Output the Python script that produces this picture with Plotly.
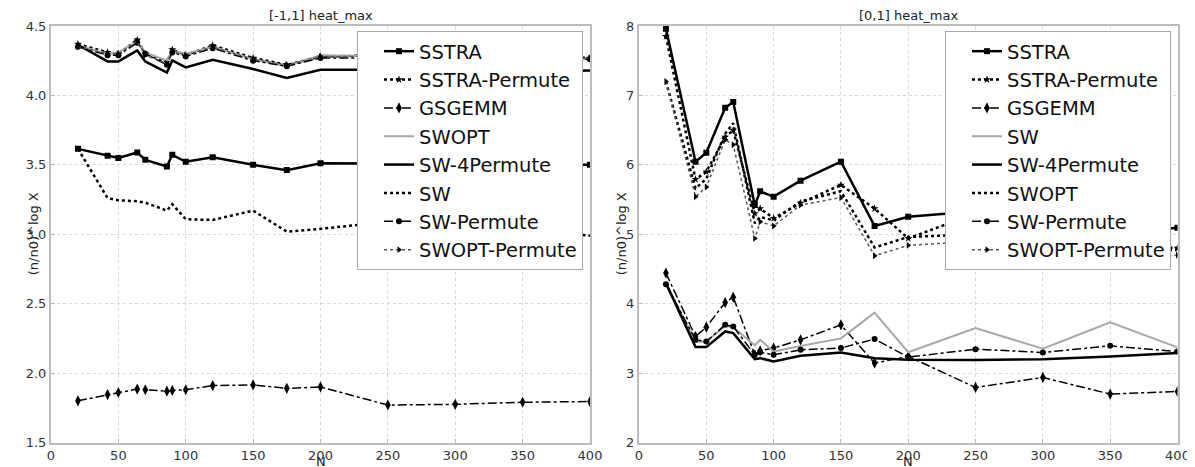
import plotly.graph_objects as go

# ---------------- data ----------------
N = [20, 42, 50, 64, 70, 86, 90, 100, 120, 150, 175, 200, 250, 300, 350, 400]

left_names = ["SSTRA", "SSTRA-Permute", "GSGEMM", "SWOPT", "SW-4Permute", "SW", "SW-Permute", "SWOPT-Permute"]
right_names = ["SSTRA", "SSTRA-Permute", "GSGEMM", "SW", "SW-4Permute", "SWOPT", "SW-Permute", "SWOPT-Permute"]

# [-1,1] heat_max
L_sstra = [3.615, 3.565, 3.550, 3.589, 3.536, 3.488, 3.572, 3.522, 3.555, 3.500, 3.462, 3.512, 3.51, 3.50, 3.50, 3.50]
L_sstra_perm = [4.37, 4.31, 4.30, 4.40, 4.30, 4.24, 4.33, 4.29, 4.36, 4.27, 4.22, 4.28, 4.29, 4.28, 4.28, 4.27]
L_gsgemm = [1.80, 1.845, 1.86, 1.885, 1.88, 1.87, 1.875, 1.88, 1.91, 1.915, 1.89, 1.90, 1.77, 1.775, 1.79, 1.795]
L_4th = [4.36, 4.30, 4.31, 4.39, 4.31, 4.25, 4.32, 4.30, 4.35, 4.26, 4.21, 4.29, 4.28, 4.28, 4.27, 4.26]
L_sw4perm = [4.365, 4.245, 4.245, 4.324, 4.245, 4.165, 4.252, 4.202, 4.257, 4.19, 4.125, 4.185, 4.185, 4.18, 4.17, 4.18]
L_6th = [3.615, 3.260, 3.245, 3.238, 3.228, 3.170, 3.217, 3.108, 3.103, 3.170, 3.019, 3.039, 3.09, 3.06, 3.03, 2.99]
L_swperm = [4.35, 4.29, 4.29, 4.38, 4.30, 4.22, 4.31, 4.28, 4.34, 4.25, 4.21, 4.27, 4.27, 4.27, 4.27, 4.26]
L_swoptperm = [4.35, 4.30, 4.30, 4.39, 4.29, 4.23, 4.32, 4.29, 4.35, 4.26, 4.22, 4.28, 4.28, 4.27, 4.27, 4.27]

# [0,1] heat_max
R_sstra = [7.96, 6.045, 6.174, 6.822, 6.904, 5.42, 5.618, 5.541, 5.771, 6.045, 5.119, 5.253, 5.33, 5.20, 5.00, 5.095]
R_sstra_perm = [7.85, 5.79, 5.90, 6.40, 6.50, 5.30, 5.37, 5.23, 5.45, 5.71, 5.37, 4.94, 5.30, 5.05, 4.85, 4.80]
R_gsgemm = [4.44, 3.527, 3.662, 4.016, 4.094, 3.263, 3.321, 3.36, 3.479, 3.695, 3.144, 3.24, 2.793, 2.937, 2.698, 2.735]
R_4th = [4.30, 3.45, 3.45, 3.68, 3.66, 3.40, 3.48, 3.31, 3.39, 3.50, 3.87, 3.30, 3.65, 3.35, 3.73, 3.37]
R_sw4perm = [4.295, 3.374, 3.374, 3.60, 3.576, 3.201, 3.215, 3.167, 3.249, 3.297, 3.215, 3.191, 3.19, 3.20, 3.24, 3.29]
R_6th = [7.20, 5.66, 5.80, 6.45, 6.60, 5.16, 5.25, 5.20, 5.47, 5.62, 4.81, 4.96, 5.00, 4.90, 4.70, 4.78]
R_swperm = [4.28, 3.479, 3.455, 3.695, 3.67, 3.263, 3.30, 3.263, 3.335, 3.36, 3.49, 3.23, 3.345, 3.297, 3.393, 3.31]
R_swoptperm = [7.20, 5.54, 5.68, 6.36, 6.29, 4.94, 5.18, 5.12, 5.42, 5.53, 4.69, 4.84, 4.90, 4.80, 4.58, 4.70]

left_series = [L_sstra, L_sstra_perm, L_gsgemm, L_4th, L_sw4perm, L_6th, L_swperm, L_swoptperm]
right_series = [R_sstra, R_sstra_perm, R_gsgemm, R_4th, R_sw4perm, R_6th, R_swperm, R_swoptperm]

# styles by position
styles = [
    dict(line=dict(color="black", width=2.5, dash="solid"), marker=dict(symbol="square", size=6, color="black"), mode="lines+markers"),
    dict(line=dict(color="black", width=2.5, dash="dot"), marker=dict(symbol="star", size=6, color="black"), mode="lines+markers"),
    dict(line=dict(color="black", width=1.5, dash="dashdot"), marker=dict(symbol="diamond-tall", size=8, color="black"), mode="lines+markers"),
    dict(line=dict(color="#a8a8a8", width=2, dash="solid"), marker=dict(symbol="triangle-down", size=3, color="#a8a8a8"), mode="lines"),
    dict(line=dict(color="black", width=2.5, dash="solid"), marker=dict(size=1), mode="lines"),
    dict(line=dict(color="black", width=2.5, dash="dot"), marker=dict(size=1), mode="lines"),
    dict(line=dict(color="black", width=1.5, dash="dashdot"), marker=dict(symbol="circle", size=6, color="black"), mode="lines+markers"),
    dict(line=dict(color="#555555", width=1.5, dash="dot"), marker=dict(symbol="triangle-right", size=6, color="black"), mode="lines+markers"),
]

fig = go.Figure()
for name, ys, st in zip(left_names, left_series, styles):
    fig.add_trace(go.Scatter(x=N, y=ys, name=name, mode=st["mode"], line=st["line"],
                             marker=st["marker"], xaxis="x", yaxis="y", legend="legend"))
for name, ys, st in zip(right_names, right_series, styles):
    fig.add_trace(go.Scatter(x=N, y=ys, name=name, mode=st["mode"], line=st["line"],
                             marker=st["marker"], xaxis="x2", yaxis="y2", legend="legend2"))

W, H = 1195, 467
OFF = 8  # page offset of the figure inside the browser window

def px(sx):
    return (sx - OFF) / W

def py(sy):
    return 1 - (sy - OFF) / H

L_x0, L_x1 = 51, 590
R_x0, R_x1 = 639, 1177.5
y_top, y_bot = 26, 442.5

axis_common = dict(showline=True, mirror=True, linecolor="#bdbdbd", linewidth=2,
                   showgrid=True, gridcolor="#d9d9d9", griddash="dot", gridwidth=1,
                   zeroline=False, ticks="inside", ticklen=4, tickcolor="#bdbdbd",
                   automargin=False,
                   tickfont=dict(family="DejaVu Sans", size=13, color="#333333"))

legend_common = dict(xanchor="left", yanchor="top", bgcolor="white",
                     bordercolor="#aaaaaa", borderwidth=1,
                     font=dict(family="DejaVu Sans", size=19.5, color="#111111"),
                     indentation=21, tracegroupgap=0)

fig.update_layout(
    width=W, height=H,
    margin=dict(l=0, r=0, t=0, b=0, autoexpand=False),
    paper_bgcolor="white", plot_bgcolor="white",
    font=dict(family="DejaVu Sans", color="#222222"),
    xaxis=dict(domain=[px(L_x0), px(L_x1)], range=[0, 400], dtick=50, anchor="y", **axis_common),
    yaxis=dict(domain=[py(y_bot), py(y_top)], range=[1.5, 4.5], dtick=0.5, tickformat=".1f", anchor="x", **axis_common),
    xaxis2=dict(domain=[px(R_x0), px(R_x1)], range=[0, 400], dtick=50, anchor="y2", **axis_common),
    yaxis2=dict(domain=[py(y_bot), py(y_top)], range=[2, 8], dtick=1, anchor="x2", **axis_common),
    legend=dict(x=px(357), y=py(31), **legend_common),
    legend2=dict(x=px(945), y=py(31), **legend_common),
    showlegend=True,
)

ann_font = dict(family="DejaVu Sans", size=13, color="#222222")
for x0, x1, title in [(L_x0, L_x1, "[-1,1] heat_max"), (R_x0, R_x1, "[0,1] heat_max")]:
    xc = px((x0 + x1) / 2)
    fig.add_annotation(x=xc, y=py(15), xref="paper", yref="paper", text=title, showarrow=False,
                       font=ann_font, xanchor="center", yanchor="middle")
    fig.add_annotation(x=xc, y=py(461), xref="paper", yref="paper", text="N", showarrow=False,
                       font=ann_font, xanchor="center", yanchor="middle")
for xs in [33, 621]:
    fig.add_annotation(x=px(xs), y=py((y_top + y_bot) / 2), xref="paper", yref="paper",
                       text="(n/n0)^log X", showarrow=False, textangle=-90, font=ann_font,
                       xanchor="center", yanchor="middle")

fig.write_html("out.html")
